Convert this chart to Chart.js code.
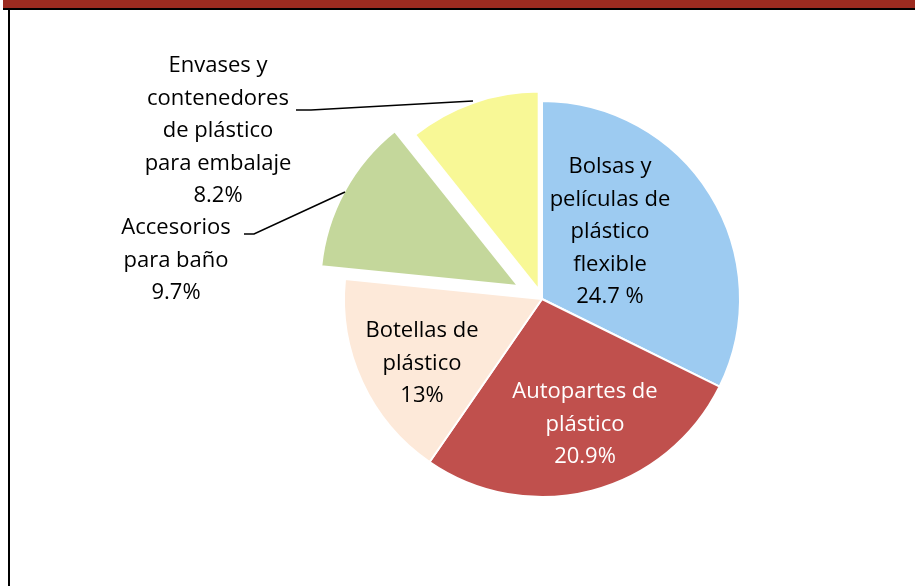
<!DOCTYPE html>
<html>
<head>
<meta charset="utf-8">
<script src="https://cdn.jsdelivr.net/npm/chart.js@4/dist/chart.umd.min.js"></script>
<style>
html, body { margin: 0; padding: 0; background: #fff; }
#wrap { position: relative; width: 915px; height: 586px; overflow: hidden; }
#banner { position: absolute; left: 3px; top: 0; width: 912px; height: 8px; background: #9c2b20; }
#rule { position: absolute; left: 3px; top: 8px; width: 912px; height: 2px; background: #000; }
#leftEdge { position: absolute; left: 8px; top: 10px; width: 2px; height: 576px; background: #000; }
canvas { position: absolute; left: 0; top: 0; }
</style>
</head>
<body>
<div id="wrap">
  <canvas id="pieChart" width="915" height="586"></canvas>
  <div id="banner"></div>
  <div id="rule"></div>
  <div id="leftEdge"></div>
</div>
<script>
// Datos
const categories = [
    'Bolsas y películas de plástico flexible',
    'Autopartes de plástico',
    'Botellas de plástico',
    'Accesorios para baño',
    'Envases y contenedores de plástico para embalaje'
];
const shares = [24.7, 20.9, 13, 9.7, 8.2];
const shareLabels = ['24.7 %', '20.9%', '13%', '9.7%', '8.2%'];
const labelLines = [
    ['Bolsas y', 'películas de', 'plástico', 'flexible'],
    ['Autopartes de', 'plástico'],
    ['Botellas de', 'plástico'],
    ['Accesorios', 'para baño'],
    ['Envases y', 'contenedores', 'de plástico', 'para embalaje']
];

// Estilo
const sliceColors = ['#9dcbf1', '#c0504d', '#fde9d9', '#c4d79b', '#f8f896'];
const textColors = ['#000', '#fff', '#000', '#000', '#000'];
const explodeBy = [0, 0, 0, 27, 10];
const labelFont = '22px "Open Sans"';
const lineHeight = 32.5;

// posición de cada etiqueta (centro x, primera línea y)
const labelSpots = [
    { x: 610, y: 167 },
    { x: 585, y: 392 },
    { x: 422, y: 331 },
    { x: 176, y: 228 },
    { x: 218, y: 66 }
];
// líneas guía para las etiquetas exteriores
const leaders = {
    3: [[244, 234], [254, 234], [345, 192]],
    4: [[296, 110], [311, 110], [473, 101]]
};

// separar las porciones destacadas
const explodePlugin = {
    id: 'explode',
    afterDatasetUpdate(chart, args) {
        args.meta.data.forEach((arc, i) => {
            const d = explodeBy[i] || 0;
            if (!d) return;
            const mid = (arc.startAngle + arc.endAngle) / 2;
            arc.x += Math.cos(mid) * d;
            arc.y += Math.sin(mid) * d;
        });
    }
};

// etiquetas de datos
const labelPlugin = {
    id: 'sliceLabels',
    afterDatasetsDraw(chart) {
        const ctx = chart.ctx;
        ctx.save();
        ctx.font = labelFont;
        ctx.textAlign = 'center';
        ctx.textBaseline = 'middle';
        categories.forEach((cat, i) => {
            const lines = labelLines[i].concat([shareLabels[i]]);
            const spot = labelSpots[i];
            ctx.fillStyle = textColors[i];
            lines.forEach((line, k) => {
                ctx.fillText(line, spot.x, spot.y + k * lineHeight);
            });
        });
        ctx.strokeStyle = '#000';
        ctx.lineWidth = 1.6;
        Object.values(leaders).forEach(pts => {
            ctx.beginPath();
            pts.forEach((p, k) => k ? ctx.lineTo(p[0], p[1]) : ctx.moveTo(p[0], p[1]));
            ctx.stroke();
        });
        ctx.restore();
    }
};

const ctx = document.getElementById('pieChart').getContext('2d');
new Chart(ctx, {
    type: 'pie',
    data: {
        labels: categories,
        datasets: [{
            data: shares,
            backgroundColor: sliceColors,
            borderColor: '#ffffff',
            borderWidth: 2
        }]
    },
    options: {
        responsive: false,
        animation: false,
        radius: 198,
        layout: { padding: { left: 169, right: 0, top: 12, bottom: 0 } },
        plugins: {
            legend: { display: false },
            tooltip: { enabled: false }
        }
    },
    plugins: [explodePlugin, labelPlugin]
});
</script>
</body>
</html>
